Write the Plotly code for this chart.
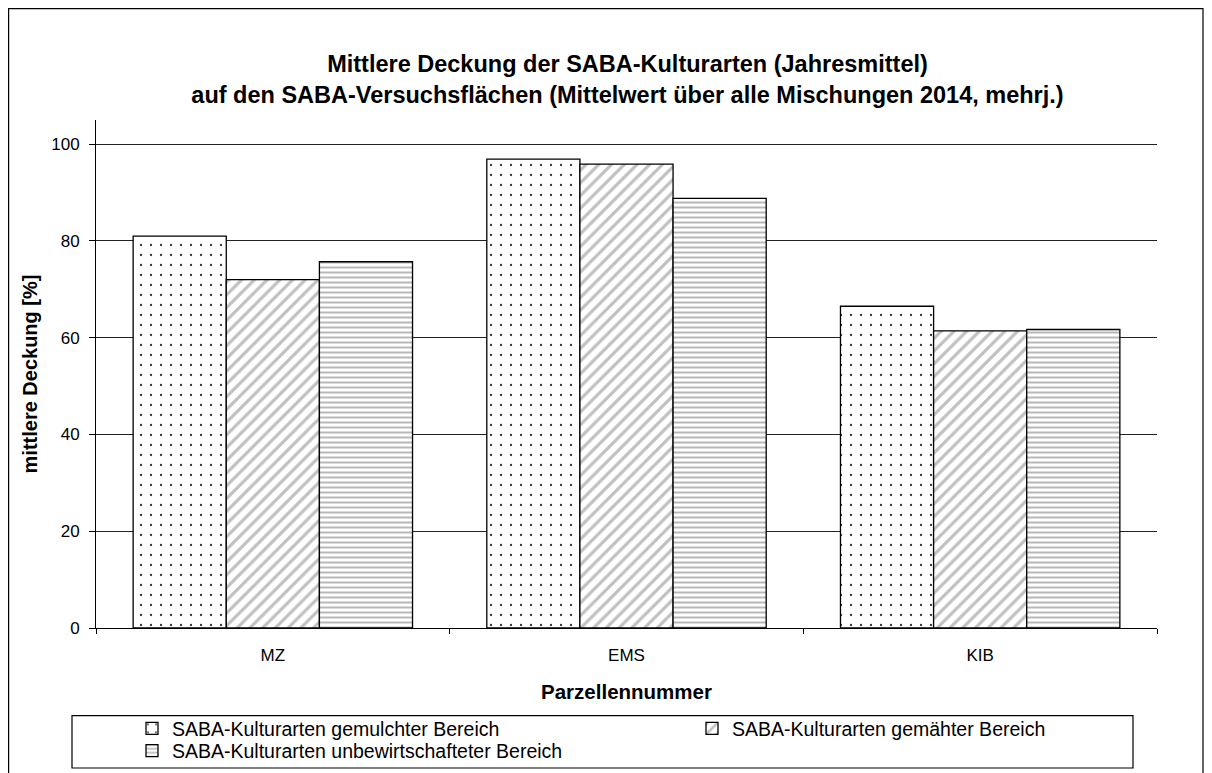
import plotly.graph_objects as go

categories = ["MZ", "EMS", "KIB"]
series_names = [
    "SABA-Kulturarten gemulchter Bereich",
    "SABA-Kulturarten gemähter Bereich",
    "SABA-Kulturarten unbewirtschafteter Bereich",
]
gemulcht = [81.0, 96.9, 66.5]
gemaeht = [72.0, 95.9, 61.4]
unbewirtschaftet = [75.7, 88.8, 61.7]
y_ticks = [0, 20, 40, 60, 80, 100]

title_line1 = "Mittlere Deckung der SABA-Kulturarten (Jahresmittel)"
title_line2 = "auf den SABA-Versuchsflächen (Mittelwert über alle Mischungen 2014, mehrj.)"
x_title = "Parzellennummer"
y_title = "mittlere Deckung [%]"

FONT = "Liberation Sans, Arial, sans-serif"

# page offset (body margin) and figure size
OFF = 8
W, H = 1212 - OFF, 773 - OFF
# plot area in screen coordinates
PX0, PX1, PY0, PY1 = 96, 1157, 120, 628
L, R, T, B = PX0 - OFF, W - (PX1 - OFF), PY0 - OFF, H - (PY1 - OFF)
pw, ph = PX1 - PX0, PY1 - PY0


def px(x):
    return (x - PX0) / pw


def py(y):
    return (PY1 - y) / ph


def cy(y):
    return 1 - (y - OFF) / H


patterns = [
    dict(shape=".", fgcolor="#333333", bgcolor="white", size=10, solidity=0.04, fillmode="replace"),
    dict(shape="/", fgcolor="#c0c0c0", bgcolor="white", size=9, solidity=0.35, fillmode="replace"),
    dict(shape="-", fgcolor="#b8b8b8", bgcolor="white", size=5, solidity=0.4, fillmode="replace"),
]
legend_ids = ["legend", "legend2", "legend3"]

fig = go.Figure()
for name, vals, pat, lg in zip(series_names, [gemulcht, gemaeht, unbewirtschaftet], patterns, legend_ids):
    fig.add_trace(go.Bar(
        x=categories, y=vals, name=name, legend=lg,
        marker=dict(color="white", pattern=pat, line=dict(color="black", width=1.3)),
    ))

leg_font = dict(family=FONT, size=19.5, color="black")
leg_common = dict(orientation="v", xanchor="left", yanchor="middle", itemwidth=30,
                  font=leg_font, bgcolor="rgba(0,0,0,0)", borderwidth=0)

fig.update_layout(
    width=W, height=H,
    margin=dict(l=L, r=R, t=T, b=B, autoexpand=False),
    paper_bgcolor="white", plot_bgcolor="white",
    font=dict(family=FONT, size=17, color="black"),
    barmode="group", bargap=0.21, bargroupgap=0,
    title=dict(
        text="<b>" + title_line1 + "<br>" + title_line2 + "</b>",
        x=px(627.5), xanchor="center", xref="paper",
        y=cy(72), yanchor="middle", yref="container",
        font=dict(family=FONT, size=23.5, color="black"),
    ),
    showlegend=True,
    legend=dict(x=px(132), y=py(728.7), **leg_common),
    legend2=dict(x=px(692), y=py(728.7), **leg_common),
    legend3=dict(x=px(132), y=py(751), **leg_common),
    xaxis=dict(
        showline=True, linecolor="black", linewidth=1,
        ticks="outside", ticklen=5, tickcolor="black", tickson="boundaries",
        ticklabelstandoff=12,
        tickfont=dict(family=FONT, size=17, color="black"),
        title=dict(text="<b>" + x_title + "</b>", font=dict(family=FONT, size=20.5, color="black"), standoff=20),
        showgrid=False, zeroline=False, automargin=False,
    ),
    yaxis=dict(
        range=[0, 105], tickvals=y_ticks,
        showline=True, linecolor="black", linewidth=1,
        ticks="outside", ticklen=6, tickcolor="black", ticklabelstandoff=6,
        tickfont=dict(family=FONT, size=17, color="black"),
        showgrid=True, gridcolor="#222222", gridwidth=1,
        zeroline=False, automargin=False,
        title=dict(text="<b>" + y_title + "</b>", font=dict(family=FONT, size=20, color="black"), standoff=8),
    ),
    shapes=[
        dict(type="rect", xref="paper", yref="paper",
             x0=px(8.6), x1=px(1203), y0=py(800), y1=py(8.6),
             line=dict(color="black", width=1.2), fillcolor="rgba(0,0,0,0)", layer="below"),
        dict(type="rect", xref="paper", yref="paper",
             x0=px(72), x1=px(1133), y0=py(768), y1=py(715.7),
             line=dict(color="black", width=1.2), fillcolor="rgba(0,0,0,0)", layer="below"),
    ],
)

fig.write_html("out.html")
